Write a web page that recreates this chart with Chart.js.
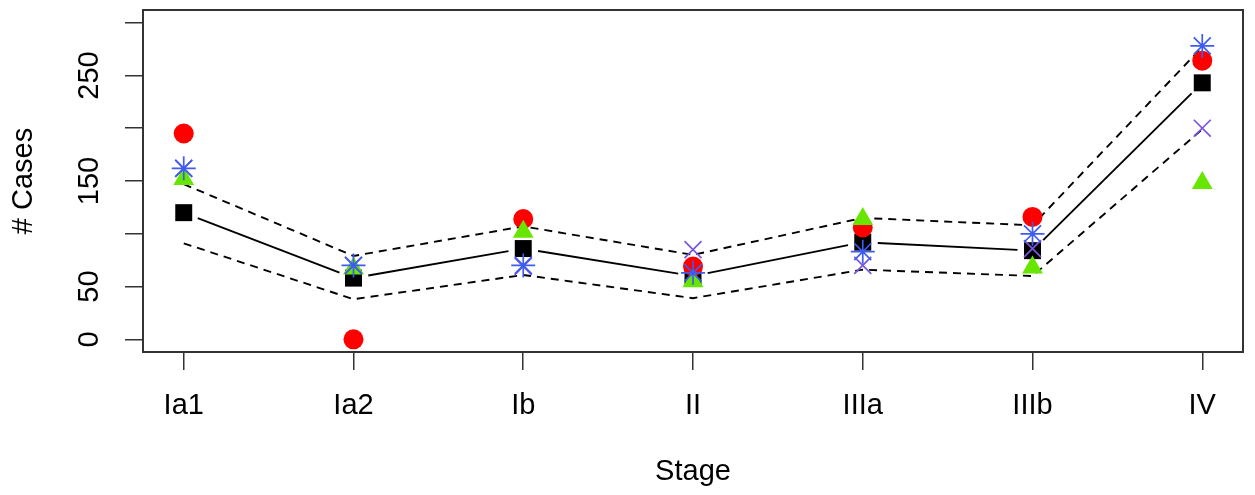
<!DOCTYPE html>
<html>
<head>
<meta charset="utf-8">
<script src="https://cdn.jsdelivr.net/npm/chart.js@4"></script>
<style>
  html, body { margin: 0; padding: 0; background: #fff; }
  #wrap { width: 1255px; height: 495px; }
</style>
</head>
<body>
<div id="wrap"><canvas id="stageChart" width="1255" height="495"></canvas></div>
<script>
// Data
const stages = ['Ia1', 'Ia2', 'Ib', 'II', 'IIIa', 'IIIb', 'IV'];
const meanCases = [120, 58, 86, 60, 92, 84, 243];
const upperBand = [147, 79, 107, 80, 115, 108, 277];
const lowerBand = [91, 38, 61, 39, 66, 60, 199];
const redCircles = [195, 0, 114, 69, 106, 116, 264];
const greenTriangles = [152, 67, 102, 55, 114, 68, 148];
const blueStars = [162, 70, 70, 63, 83, 100, 278];
const purpleCrosses = [162, 70, 69, 85, 70, 86, 200];
const yTicks = [0, 50, 100, 150, 200, 250, 300];
const yTickLabels = ['0', '50', '', '150', '', '250', ''];

const FONT = "'Liberation Sans', Arial, Helvetica, sans-serif";
const AXIS = '#333';

// turn an array into {x, y} points at stage positions 1..n
function toPoints(values) {
  return values.map((v, i) => ({ x: i + 1, y: v }));
}

// Solid mean line with small gaps around the markers (like R type="b")
const gapLine = {
  id: 'gapLine',
  beforeDatasetsDraw(chart) {
    const { ctx, scales: { x, y } } = chart;
    ctx.save();
    ctx.strokeStyle = '#000';
    ctx.lineWidth = 1.9;
    for (let i = 0; i < meanCases.length - 1; i++) {
      const x0 = x.getPixelForValue(i + 1), y0 = y.getPixelForValue(meanCases[i]);
      const x1 = x.getPixelForValue(i + 2), y1 = y.getPixelForValue(meanCases[i + 1]);
      const dx = x1 - x0, dy = y1 - y0;
      const g = 15 / Math.hypot(dx, dy);
      ctx.beginPath();
      ctx.moveTo(x0 + dx * g, y0 + dy * g);
      ctx.lineTo(x1 - dx * g, y1 - dy * g);
      ctx.stroke();
    }
    ctx.restore();
  }
};

// Box around the plot region
const plotBox = {
  id: 'plotBox',
  beforeDatasetsDraw(chart) {
    const { ctx, chartArea: a } = chart;
    ctx.save();
    ctx.strokeStyle = AXIS;
    ctx.lineWidth = 2;
    ctx.strokeRect(a.left, a.top, a.right - a.left, a.bottom - a.top);
    ctx.restore();
  }
};

function markerSet(values, style, color, radius, order, filled) {
  return {
    data: toPoints(values),
    showLine: false,
    pointStyle: style,
    pointRadius: radius,
    pointBackgroundColor: filled ? color : 'transparent',
    pointBorderColor: color,
    pointBorderWidth: filled ? 0 : 1.7,
    order: order
  };
}

function bandSet(values) {
  return {
    data: toPoints(values),
    showLine: true,
    borderColor: '#000',
    borderWidth: 1.9,
    borderDash: [8, 6],
    pointRadius: 0,
    fill: false,
    tension: 0,
    order: 10
  };
}

const ctx = document.getElementById('stageChart').getContext('2d');
new Chart(ctx, {
  type: 'scatter',
  data: {
    datasets: [
      bandSet(upperBand),
      bandSet(lowerBand),
      markerSet(meanCases, 'rect', '#000', 12, 9, true),
      markerSet(redCircles, 'circle', '#ff0000', 10, 8, true),
      markerSet(greenTriangles, 'triangle', '#66e600', 12, 7, true),
      markerSet(purpleCrosses, 'crossRot', '#7a55dd', 12, 6, false),
      markerSet(blueStars, 'star', '#3e5cf2', 12, 5, false)
    ]
  },
  options: {
    responsive: false,
    animation: false,
    layout: { autoPadding: false, padding: { top: 10, right: 12, left: 0, bottom: 0 } },
    plugins: {
      legend: { display: false },
      tooltip: { enabled: false }
    },
    scales: {
      x: {
        type: 'linear',
        min: 0.76,
        max: 7.24,
        afterFit: s => { s.height = 143; s.paddingLeft = 0; s.paddingRight = 0; },
        afterBuildTicks: s => { s.ticks = stages.map((_, i) => ({ value: i + 1 })); },
        grid: { drawOnChartArea: false, tickLength: 18, color: AXIS, lineWidth: 1.5 },
        border: { display: false },
        ticks: {
          padding: 19,
          color: '#000',
          maxRotation: 0,
          font: { family: FONT, size: 29 },
          callback: v => stages[Math.round(v) - 1] || ''
        },
        title: {
          display: true,
          text: 'Stage',
          color: '#000',
          font: { family: FONT, size: 29 },
          padding: { top: 0, bottom: 6 }
        }
      },
      y: {
        type: 'linear',
        min: -12,
        max: 312,
        afterFit: s => { s.width = 143; s.paddingTop = 0; s.paddingBottom = 0; },
        afterBuildTicks: s => { s.ticks = yTicks.map(v => ({ value: v })); },
        grid: { drawOnChartArea: false, tickLength: 18, color: AXIS, lineWidth: 1.5 },
        border: { display: false },
        ticks: {
          padding: 11,
          color: '#000',
          minRotation: 90,
          maxRotation: 90,
          crossAlign: 'center',
          font: { family: FONT, size: 29 },
          callback: v => yTickLabels[yTicks.indexOf(v)] ?? ''
        },
        title: {
          display: true,
          text: '# Cases',
          color: '#000',
          font: { family: FONT, size: 29 },
          padding: { top: 7, bottom: 0 }
        }
      }
    }
  },
  plugins: [gapLine, plotBox]
});
</script>
</body>
</html>
